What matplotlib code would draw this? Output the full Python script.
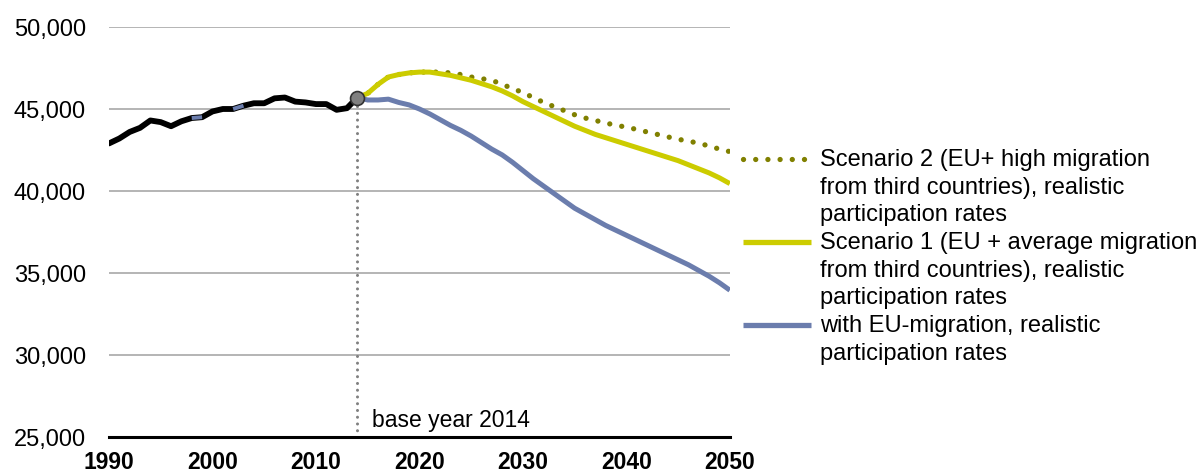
import matplotlib
matplotlib.use("Agg")
import matplotlib.pyplot as plt
from matplotlib.lines import Line2D
import numpy as np

# data
hist_years = list(range(1990, 2015))
hist_vals = [42900, 43200, 43600, 43850, 44300, 44200, 43950, 44250, 44450, 44500,
             44850, 45000, 45000, 45200, 45350, 45350, 45650, 45700, 45450, 45400,
             45300, 45300, 44950, 45050, 45700]
# short stretches of the history drawn in blue
hist_blue = [(1998, 1999), (2002, 2003)]

proj_years = list(range(2014, 2051))
scen1 = [45700, 45950, 46500, 46950, 47100, 47200, 47250, 47250, 47150, 47050,
         46900, 46750, 46550, 46350, 46100, 45800, 45450, 45150, 44850, 44550,
         44250, 43950, 43700, 43450, 43250, 43050, 42850, 42650, 42450, 42250,
         42050, 41850, 41600, 41350, 41100, 40800, 40450]
scen2 = [45700, 45950, 46500, 46950, 47100, 47200, 47250, 47250, 47250, 47200,
         47100, 46950, 46850, 46750, 46500, 46250, 46000, 45700, 45400, 45150,
         44900, 44650, 44450, 44300, 44150, 44000, 43900, 43750, 43600, 43450,
         43300, 43150, 43050, 42900, 42750, 42550, 42400]
eu_only = [45700, 45550, 45550, 45600, 45400, 45250, 45000, 44700, 44350, 44000,
           43700, 43350, 42950, 42550, 42200, 41750, 41250, 40750, 40300, 39850,
           39400, 38950, 38600, 38250, 37900, 37600, 37300, 37000, 36700, 36400,
           36100, 35800, 35500, 35150, 34800, 34400, 33950]

labels = ["Scenario 2 (EU+ high migration\nfrom third countries), realistic\nparticipation rates",
          "Scenario 1 (EU + average migration\nfrom third countries), realistic\nparticipation rates",
          "with EU-migration, realistic\nparticipation rates"]
base_year = 2014
base_label = "base year 2014"
xticks = [1990, 2000, 2010, 2020, 2030, 2040, 2050]
yticks = [25000, 30000, 35000, 40000, 45000, 50000]

BLUE = "#6b7dad"
YELLOW = "#cccc00"
OLIVE = "#808000"

plt.rcParams['font.family'] = ['Liberation Sans', 'DejaVu Sans']

fig = plt.figure(figsize=(12.04, 4.77), dpi=100)
ax = fig.add_axes([0.0905, 0.0818, 0.5157, 0.8595])

ax.plot(proj_years, eu_only, color=BLUE, lw=3.6, solid_capstyle='butt', zorder=3)
ax.plot(proj_years, scen2, color=OLIVE, lw=3.8, linestyle=(0, (0.01, 2.3)),
        dash_capstyle='round', zorder=4)
ax.plot(proj_years, scen1, color=YELLOW, lw=3.6, solid_capstyle='butt', zorder=5)

ax.plot(hist_years, hist_vals, color='black', lw=4.2, solid_capstyle='round', zorder=6)
for a, b in hist_blue:
    i0, i1 = hist_years.index(a), hist_years.index(b)
    ax.plot(hist_years[i0:i1 + 1], hist_vals[i0:i1 + 1], color=BLUE, lw=2.8,
            solid_capstyle='butt', zorder=7)

base_val = hist_vals[hist_years.index(base_year)]
ax.plot([base_year, base_year], [yticks[0], base_val], color='#808080', lw=2.2,
        linestyle=(0, (0.01, 2.2)), dash_capstyle='round', zorder=2)
ax.plot([base_year], [base_val], 'o', ms=10, mfc='#808080', mec='#333333', mew=1.2, zorder=8)
ax.text(base_year + 1.4, 25670, base_label, fontsize=16.5, ha='left', va='baseline')

ax.set_xlim(1990, 2050)
ax.set_ylim(25000, 50000)
ax.set_xticks(xticks)
ax.set_yticks(yticks)
ax.set_yticklabels([f"{v:,}" for v in yticks])
ax.tick_params(axis='y', length=0, pad=16.5, labelsize=17)
ax.tick_params(axis='x', length=0, pad=9.5, labelsize=16.5)
for t in ax.get_xticklabels():
    t.set_fontweight('bold')
ax.grid(axis='y', color='#a0a0a0', lw=1.1)
ax.set_axisbelow(True)
for s in ['left', 'right', 'top']:
    ax.spines[s].set_visible(False)
ax.spines['bottom'].set_linewidth(2.2)
ax.spines['bottom'].set_zorder(9)

# legend drawn by hand so the key sits on the first line of each label
styles = [dict(color=OLIVE, lw=3.8, linestyle=(0, (0.01, 2.3)), dash_capstyle='round'),
          dict(color=YELLOW, lw=3.8, solid_capstyle='butt'),
          dict(color=BLUE, lw=3.8, solid_capstyle='butt')]
W, H = 1204, 477
line_h = 27.7
y = 160
for lab, st in zip(labels, styles):
    fig.add_artist(Line2D([743 / W, 811 / W], [1 - y / H, 1 - y / H], **st))
    for k, part in enumerate(lab.split("\n")):
        fig.text(820 / W, 1 - (y + k * line_h) / H, part, fontsize=17, va='center', ha='left')
    y += line_h * len(lab.split("\n"))

fig.savefig("out.png", dpi=100)
